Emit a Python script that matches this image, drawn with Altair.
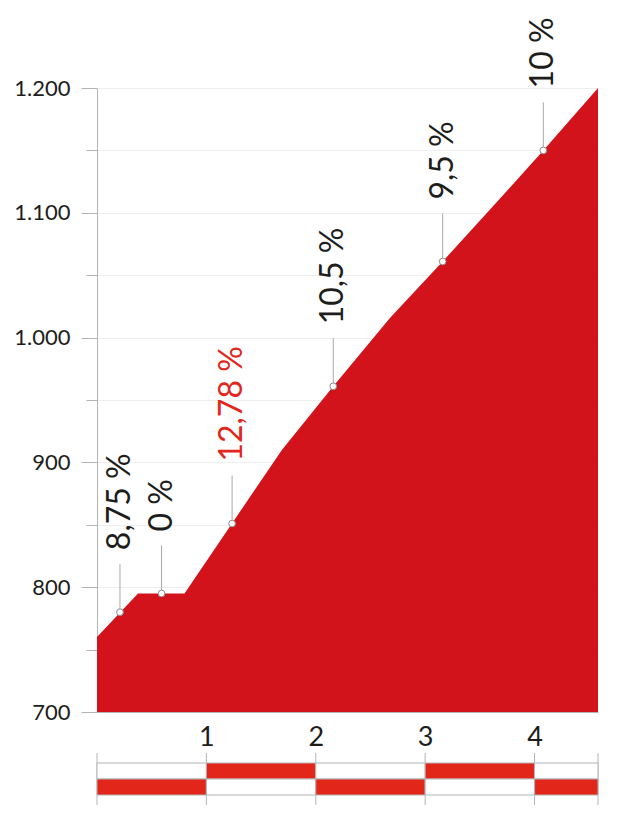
import altair as alt
import pandas as pd

# Profile (km, altitude in m)
km = [0, 0.375, 0.80, 1.69, 2.16, 2.68, 3.16, 3.67, 4.08, 4.58]
elev = [760, 795, 795, 910, 961, 1016, 1061, 1110, 1150, 1200]

# Gradient markers
mk_km = [0.21, 0.59, 1.235, 2.16, 3.16, 4.08]
mk_elev = [780, 795, 851, 961, 1061, 1150]
mk_label = ["8,75 %", "0 %", "12,78 %", "10,5 %", "9,5 %", "10 %"]
mk_color = ["#1d1d1b", "#1d1d1b", "#e3261b", "#1d1d1b", "#1d1d1b", "#1d1d1b"]

# Kilometre bar
seg_start = [0, 1, 2, 3, 4]
seg_end = [1, 2, 3, 4, 4.58]
seg_red_row = ["low", "high", "low", "high", "low"]
bar_ticks = [0, 1, 2, 3, 4, 4.58]

y_ticks = [700, 750, 800, 850, 900, 950, 1000, 1050, 1100, 1150, 1200]
x_labels = [1, 2, 3, 4]

FONT = "Lato"
XMAX = 4.58
BASE = 700

prof = pd.DataFrame({"km": km, "elev": elev})
marks = pd.DataFrame({"km": mk_km, "elev": mk_elev, "label": mk_label, "color": mk_color})

xs = alt.Scale(domain=[0, XMAX], nice=False, zero=False)
ys = alt.Scale(domain=[700, 1200], nice=False, zero=False)

area = alt.Chart(prof).mark_area(color="#d2131b", opacity=1).encode(
    x=alt.X("km:Q", scale=xs, axis=alt.Axis(
        values=x_labels, format="d", title=None, labelFont=FONT, labelFontSize=27,
        labelColor="#1d1d1b", tickSize=0, labelPadding=12, grid=False,
        domainColor="#b4b4b4", labelFlush=False)),
    y=alt.Y("elev:Q", scale=ys, axis=alt.Axis(
        values=y_ticks, title=None, labelFont=FONT, labelFontSize=22,
        labelColor="#1d1d1b",
        labelExpr="datum.value % 100 === 0 ? replace(format(datum.value, ','), ',', '.') : ''",
        tickSize={"condition": {"test": "datum.value % 100 === 0", "value": 16}, "value": 11},
        tickColor="#b4b4b4", domainColor="#b4b4b4", labelPadding=11,
        grid=True, gridColor="#eeeeee", gridWidth=1)),
    y2=alt.datum(BASE),
)

leaders = alt.Chart(marks).mark_rule(color="#a8a8a8", strokeWidth=1, y2Offset=-48).encode(
    x="km:Q", y="elev:Q", y2="elev:Q"
)

points = alt.Chart(marks).mark_point(
    filled=True, fill="white", stroke="#8a8a8a", strokeWidth=1, size=45, opacity=1
).encode(x="km:Q", y="elev:Q")

labels = alt.Chart(marks).mark_text(
    angle=270, align="left", baseline="middle", yOffset=-62,
    font=FONT, fontSize=32
).encode(
    x="km:Q", y="elev:Q", text="label:N", color=alt.Color("color:N", scale=None)
)

main = alt.layer(area, leaders, points, labels).properties(width=501, height=624)

rows = []
for s, e, r in zip(seg_start, seg_end, seg_red_row):
    for row in ["high", "low"]:
        rows.append({"start": s, "end": e, "row": row,
                     "fill": "#e2271a" if row == r else "#ffffff"})
cells = pd.DataFrame(rows)

cell_chart = alt.Chart(cells).mark_rect(stroke="#b4b4b4", strokeWidth=1).encode(
    x=alt.X("start:Q", scale=xs, axis=None),
    x2="end:Q",
    y=alt.Y("row:N", scale=alt.Scale(domain=["high", "low"], paddingInner=0, paddingOuter=0), axis=None),
    fill=alt.Fill("fill:N", scale=None),
)
vticks = alt.Chart(pd.DataFrame({"km": bar_ticks})).mark_rule(color="#b4b4b4", strokeWidth=1).encode(
    x=alt.X("km:Q", scale=xs, axis=None), y=alt.value(-10), y2=alt.value(42)
)
bar = alt.layer(vticks, cell_chart).properties(width=501, height=32)

chart = alt.vconcat(main, bar, spacing=2).configure_view(stroke=None).properties(
    background="white", padding={"top": 9, "left": 5, "right": 5, "bottom": 5}
)

chart.save("out.html", embed_options={"renderer": "svg", "actions": False})
